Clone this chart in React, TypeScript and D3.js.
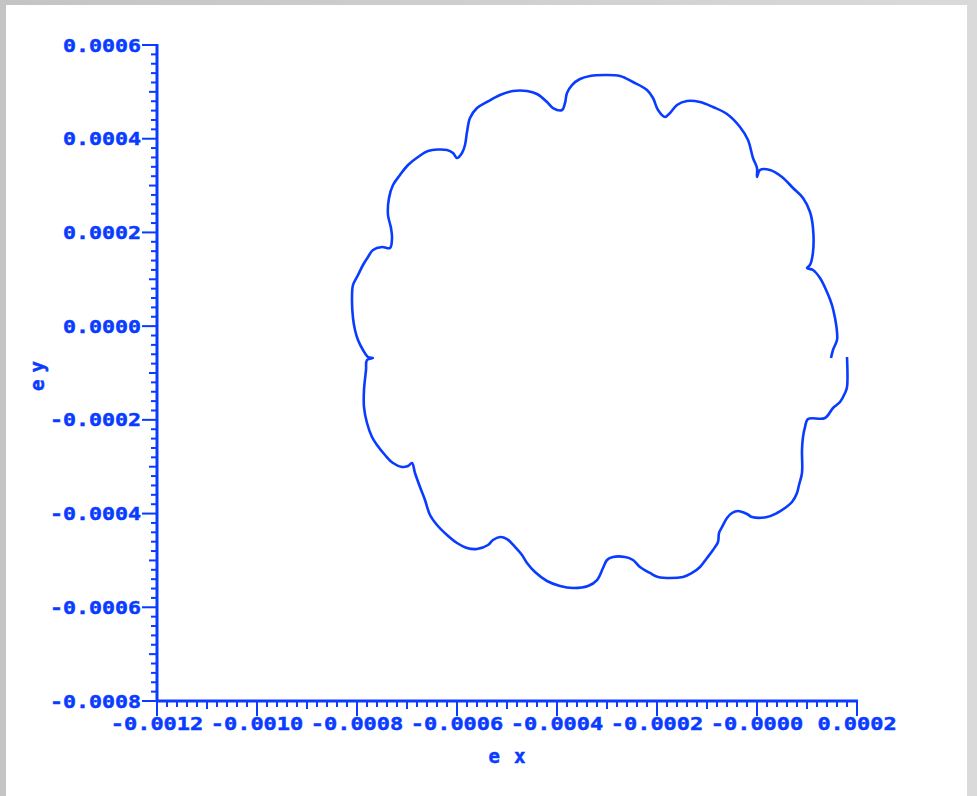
import React from "react";
import * as d3 from "d3";

const exValues = [
  0.000180, 0.000180, 0.000176, 0.000166, 0.000152, 0.000136, 0.000102, 0.000096, 0.000092, 0.000090,
  0.000090, 0.000084, 0.000080, 0.000070, 0.000056, 0.000040, 0.000020, -0.000010, -0.000020, -0.000038,
  -0.000050, -0.000060, -0.000070, -0.000076, -0.000078, -0.000088, -0.000100, -0.000114, -0.000130, -0.000148,
  -0.000198, -0.000214, -0.000234, -0.000248, -0.000264, -0.000288, -0.000300, -0.000308, -0.000320, -0.000338,
  -0.000368, -0.000394, -0.000420, -0.000444, -0.000460, -0.000470, -0.000484, -0.000500, -0.000514, -0.000528,
  -0.000538, -0.000560, -0.000580, -0.000600, -0.000620, -0.000640, -0.000654, -0.000664, -0.000674, -0.000684,
  -0.000690, -0.000698, -0.000710, -0.000728, -0.000744, -0.000760, -0.000770, -0.000780, -0.000786, -0.000786,
  -0.000782, -0.000780, -0.000768, -0.000778, -0.000788, -0.000798, -0.000804, -0.000808, -0.000810, -0.000808,
  -0.000798, -0.000788, -0.000778, -0.000768, -0.000750, -0.000734, -0.000730, -0.000732, -0.000738, -0.000736,
  -0.000728, -0.000714, -0.000698, -0.000678, -0.000658, -0.000620, -0.000608, -0.000600, -0.000590, -0.000584,
  -0.000580, -0.000574, -0.000560, -0.000540, -0.000514, -0.000488, -0.000460, -0.000440, -0.000420, -0.000408,
  -0.000390, -0.000384, -0.000380, -0.000370, -0.000354, -0.000334, -0.000304, -0.000274, -0.000248, -0.000220,
  -0.000208, -0.000198, -0.000184, -0.000174, -0.000160, -0.000140, -0.000114, -0.000088, -0.000060, -0.000034,
  -0.000018, -0.000008, 0.000000, 0.000000, 0.000006, 0.000026, 0.000050, 0.000072, 0.000092, 0.000106,
  0.000112, 0.000112, 0.000106, 0.000100, 0.000112, 0.000126, 0.000140, 0.000150, 0.000156, 0.000160,
  0.000160, 0.000152, 0.000148,
];

const eyValues = [
  -0.0000659, -0.0001299, -0.0001427, -0.0001619, -0.0001747, -0.0001960, -0.0001982, -0.0002153, -0.0002366, -0.0002643,
  -0.0003134, -0.0003390, -0.0003561, -0.0003753, -0.0003881, -0.0003988, -0.0004073, -0.0004073, -0.0004009, -0.0003945,
  -0.0003988, -0.0004095, -0.0004287, -0.0004415, -0.0004607, -0.0004778, -0.0004948, -0.0005140, -0.0005268, -0.0005354,
  -0.0005354, -0.0005268, -0.0005140, -0.0004991, -0.0004927, -0.0004927, -0.0004991, -0.0005162, -0.0005418, -0.0005546,
  -0.0005589, -0.0005546, -0.0005439, -0.0005247, -0.0005055, -0.0004884, -0.0004713, -0.0004543, -0.0004500, -0.0004564,
  -0.0004671, -0.0004756, -0.0004735, -0.0004628, -0.0004457, -0.0004244, -0.0004031, -0.0003710, -0.0003433, -0.0003134,
  -0.0002921, -0.0002985, -0.0003006, -0.0002921, -0.0002750, -0.0002537, -0.0002366, -0.0002067, -0.0001726, -0.0001363,
  -0.0000936, -0.0000723, -0.0000680, -0.0000659, -0.0000509, -0.0000296, -0.0000082, 0.0000174, 0.0000601, 0.0000878,
  0.0001091, 0.0001305, 0.0001476, 0.0001625, 0.0001689, 0.0001668, 0.0001881, 0.0002094, 0.0002372, 0.0002735,
  0.0003012, 0.0003226, 0.0003439, 0.0003610, 0.0003738, 0.0003759, 0.0003695, 0.0003588, 0.0003695, 0.0003866,
  0.0004143, 0.0004442, 0.0004655, 0.0004784, 0.0004933, 0.0005018, 0.0005018, 0.0004954, 0.0004784, 0.0004655,
  0.0004613, 0.0004762, 0.0004976, 0.0005146, 0.0005274, 0.0005338, 0.0005360, 0.0005338, 0.0005210, 0.0005040,
  0.0004869, 0.0004613, 0.0004463, 0.0004549, 0.0004719, 0.0004805, 0.0004784, 0.0004677, 0.0004527, 0.0004250,
  0.0003972, 0.0003588, 0.0003375, 0.0003183, 0.0003332, 0.0003332, 0.0003183, 0.0002948, 0.0002735, 0.0002436,
  0.0002094, 0.0001582, 0.0001305, 0.0001241, 0.0001198, 0.0001027, 0.0000729, 0.0000451, 0.0000174, -0.0000125,
  -0.0000296, -0.0000509, -0.0000680,
];

const xTickLabels = ["-0.0012", "-0.0010", "-0.0008", "-0.0006", "-0.0004", "-0.0002", "-0.0000", "0.0002"];
const yTickLabels = ["0.0006", "0.0004", "0.0002", "0.0000", "-0.0002", "-0.0004", "-0.0006", "-0.0008"];
const xTickValues = [-0.0012, -0.001, -0.0008, -0.0006, -0.0004, -0.0002, 0.0, 0.0002];
const yTickValues = [0.0006, 0.0004, 0.0002, 0.0, -0.0002, -0.0004, -0.0006, -0.0008];

const BLUE = "#0a3cff";
const FONT = "'DejaVu Sans Mono', monospace";

export default function App() {
  const W = 977;
  const H = 796;
  const x = d3.scaleLinear().domain([-0.0012, 0.0002]).range([157, 857]);
  const y = d3.scaleLinear().domain([-0.0008, 0.0006]).range([701, 45]);

  const pts: [number, number][] = exValues.map((v, i) => [v, eyValues[i]]);
  const line = d3
    .line<[number, number]>()
    .x((d) => x(d[0]))
    .y((d) => y(d[1]))
    .curve(d3.curveCatmullRom.alpha(0.5));

  const minorStep = 0.00002;
  const xMinor = d3.range(0, 71).map((i) => -0.0012 + i * minorStep);
  const yMinor = d3.range(0, 71).map((i) => -0.0008 + i * minorStep);

  const labelProps = {
    fontFamily: FONT,
    fontWeight: "bold" as const,
    fontSize: 18,
    fill: BLUE,
    stroke: BLUE,
    strokeWidth: 0.5,
    lengthAdjust: "spacingAndGlyphs",
  };

  return (
    <svg
      width={W}
      height={H}
      style={{ position: "absolute", left: 0, top: 0 }}
      xmlns="http://www.w3.org/2000/svg"
    >
      <defs>
        <linearGradient id="frame" x1="0" x2="1" y1="0" y2="0">
          <stop offset="0" stopColor="#c4c4c4" />
          <stop offset="1" stopColor="#dadada" />
        </linearGradient>
      </defs>
      <rect x={0} y={0} width={W} height={H} fill="url(#frame)" />
      <rect x={6} y={5} width={961} height={H - 5} fill="#ffffff" />

      {/* Y axis */}
      <line x1={157} x2={157} y1={y(0.0006) - 1} y2={y(-0.0008) + 1} stroke={BLUE} strokeWidth={3} />
      {yMinor.map((v, i) => {
        const len = i % 10 === 0 ? 15 : i % 5 === 0 ? 8 : 6;
        return (
          <line key={"ym" + i} x1={157 - len} x2={157} y1={y(v)} y2={y(v)} stroke={BLUE} strokeWidth={2} />
        );
      })}
      {yTickValues.map((v, i) => (
        <text
          key={"yl" + i}
          x={141}
          y={y(v) + 6.5}
          textAnchor="end"
          textLength={yTickLabels[i].length * 13}
          {...labelProps}
        >
          {yTickLabels[i]}
        </text>
      ))}

      {/* X axis */}
      <line x1={156} x2={x(0.0002) + 1} y1={701} y2={701} stroke={BLUE} strokeWidth={3} />
      {xMinor.map((v, i) => {
        const len = i % 10 === 0 ? 15 : i % 5 === 0 ? 8 : 6;
        return (
          <line key={"xm" + i} x1={x(v)} x2={x(v)} y1={701} y2={701 + len} stroke={BLUE} strokeWidth={2} />
        );
      })}
      {xTickValues.map((v, i) => (
        <text
          key={"xl" + i}
          x={x(v)}
          y={730}
          textAnchor="middle"
          textLength={xTickLabels[i].length * 13.2}
          {...labelProps}
        >
          {xTickLabels[i]}
        </text>
      ))}

      {/* Axis titles */}
      <text
        x={507}
        y={763}
        textAnchor="middle"
        fontFamily={FONT}
        fontWeight="bold"
        fontSize={19}
        fill={BLUE}
        stroke={BLUE}
        strokeWidth={0.5}
        textLength={37}
        lengthAdjust="spacing"
      >
        ex
      </text>
      <text
        transform="translate(44,376) rotate(-90)"
        textAnchor="middle"
        fontFamily={FONT}
        fontWeight="bold"
        fontSize={19}
        fill={BLUE}
        stroke={BLUE}
        strokeWidth={0.5}
        textLength={30}
        lengthAdjust="spacing"
      >
        ey
      </text>

      {/* Curve */}
      <path d={line(pts) || ""} fill="none" stroke={BLUE} strokeWidth={2.6} strokeLinejoin="round" />
    </svg>
  );
}
